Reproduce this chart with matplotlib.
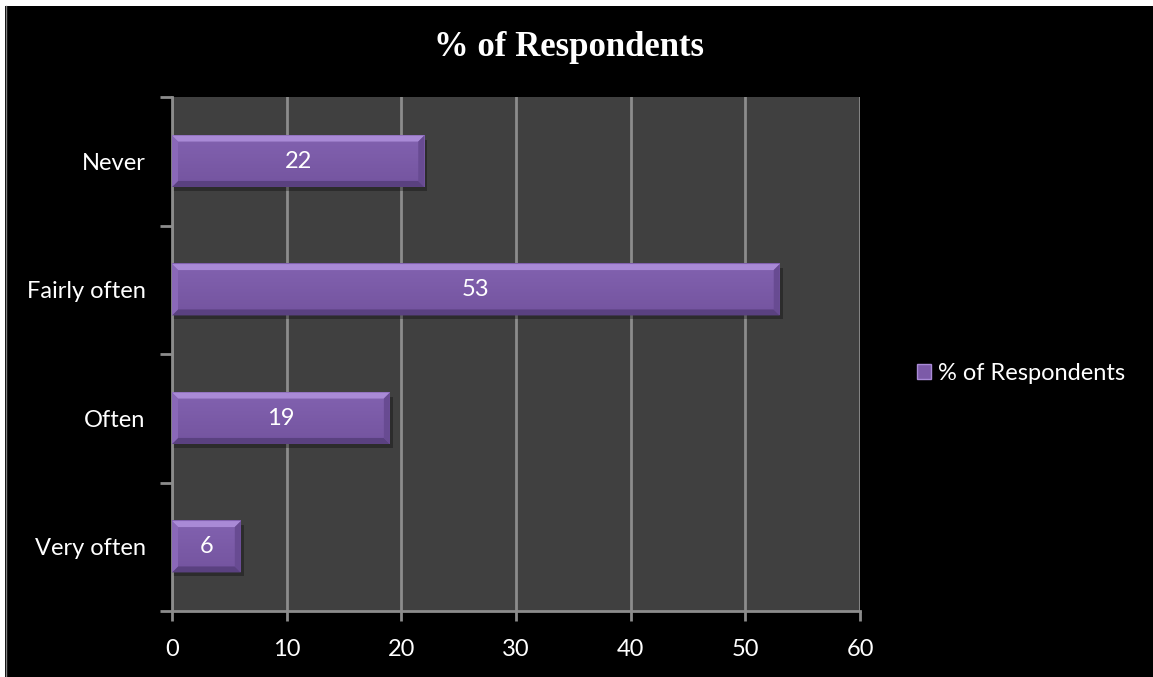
import numpy as np
import matplotlib
matplotlib.use('Agg')
import matplotlib.pyplot as plt
from matplotlib.patches import Polygon, Rectangle, Patch

# survey answers, bottom to top as drawn
categories = ['Very often', 'Often', 'Fairly often', 'Never']
values = [6, 19, 53, 22]
series_name = '% of Respondents'
xticks = [0, 10, 20, 30, 40, 50, 60]

face = '#7c5aa8'
light = '#a98ad6'
dark = '#5a4180'
grid_c = '#8c8c8c'
txt_font = ['Lato', 'DejaVu Sans']
fs = 17

fig = plt.figure(figsize=(11.53, 6.77), dpi=100, facecolor='white')
# black chart area with thin grey left edge
fig.patches.append(Rectangle((5 / 1153, 0), 1 - 5 / 1153, 1 - 6 / 677, transform=fig.transFigure,
                             facecolor='black', edgecolor='none', zorder=-5))
fig.lines.append(plt.Line2D([5.5 / 1153, 5.5 / 1153], [0, 1 - 6 / 677], transform=fig.transFigure,
                            color='#808080', lw=1))

ax = fig.add_axes([172 / 1153, 1 - 611 / 677, 688 / 1153, 514 / 677])
ax.set_facecolor('#404040')

# pixel sizes in data units, for the bevel
x_px = 60 / 688
y_px = len(categories) / 514
bx, by = 6 * x_px, 6 * y_px
h = 0.4

shade = matplotlib.colors.LinearSegmentedColormap.from_list('b', ['#74549f', '#8262b0'])
grad = np.linspace(0, 1, 50).reshape(-1, 1)
for i, v in enumerate(values):
    y0, y1 = i - h / 2, i + h / 2
    # drop shadow
    ax.add_patch(Rectangle((0, y0 - 4 * y_px), v + 3 * x_px, h, facecolor='black', alpha=0.3,
                           edgecolor='none', zorder=2))
    # face with a soft vertical shading
    ax.imshow(grad, extent=(0, v, y0, y1), origin='lower', aspect='auto', zorder=3, cmap=shade)
    ax.add_patch(Polygon([(0, y1), (v, y1), (v - bx, y1 - by), (bx, y1 - by)], closed=True,
                         facecolor=light, edgecolor='none', zorder=4))
    ax.add_patch(Polygon([(0, y0), (v, y0), (v - bx, y0 + by), (bx, y0 + by)], closed=True,
                         facecolor=dark, edgecolor='none', zorder=4))
    ax.add_patch(Polygon([(0, y0), (0, y1), (bx, y1 - by), (bx, y0 + by)], closed=True,
                         facecolor='#8a68b8', edgecolor='none', zorder=4))
    ax.add_patch(Polygon([(v, y0), (v, y1), (v - bx, y1 - by), (v - bx, y0 + by)], closed=True,
                         facecolor='#684b92', edgecolor='none', zorder=4))
    ax.text(v / 2, i, str(v), ha='center', va='center', color='white', fontsize=fs,
            family=txt_font, zorder=5)

ax.set_xlim(0, 60)
ax.set_ylim(-0.5, len(categories) - 0.5)

ax.set_xticks(xticks)
ax.set_xticklabels([str(t) for t in xticks], color='white', fontsize=fs, family=txt_font)
ax.set_yticks(range(len(categories)))
ax.set_yticklabels(categories, color='white', fontsize=fs, family=txt_font)
ax.tick_params(axis='y', length=0, pad=19)
ax.tick_params(axis='x', length=7, width=2, color=grid_c, pad=13)
# y tick marks sit between categories
ax.set_yticks(np.arange(-0.5, len(categories), 1), minor=True)
ax.tick_params(axis='y', which='minor', length=9, width=2, color=grid_c)

ax.grid(axis='x', color=grid_c, lw=2, zorder=1)
ax.set_axisbelow(True)
for s in ['top', 'right']:
    ax.spines[s].set_visible(False)
for s in ['left', 'bottom']:
    ax.spines[s].set_color(grid_c)
    ax.spines[s].set_linewidth(2)

fig.text(569 / 1153, 1 - 48 / 677, series_name, ha='center', va='center', color='white',
         fontsize=25, fontweight='bold', family=['Liberation Serif', 'DejaVu Serif'])

leg = fig.legend(handles=[Patch(facecolor=face, edgecolor=light, lw=1, label=series_name)],
                 loc='center left', bbox_to_anchor=(896 / 1153, 1 - 373 / 677), frameon=False,
                 handlelength=0.6, handleheight=0.6, handletextpad=0.3,
                 prop={'family': txt_font, 'size': fs})
for t in leg.get_texts():
    t.set_color('white')

fig.savefig('out.png', dpi=100, facecolor=fig.get_facecolor())
